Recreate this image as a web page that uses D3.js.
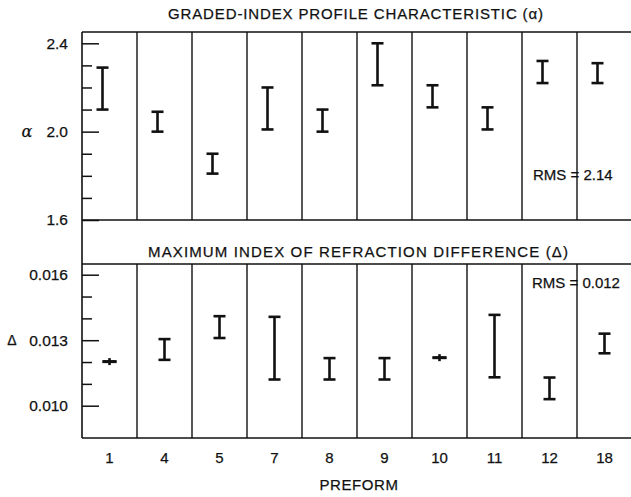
<!DOCTYPE html>
<html>
<head>
<meta charset="utf-8">
<script src="https://cdn.jsdelivr.net/npm/d3@7"></script>
<style>
  html, body { margin: 0; padding: 0; background: #fff; }
  svg { display: block; }
  text { font-family: "Liberation Sans", Arial, Helvetica, sans-serif; fill: #111; stroke: #111; stroke-width: 0.25px; }
</style>
</head>
<body>
<svg id="chart" width="631" height="497"></svg>
<script>
// Preform identifiers along the horizontal axis
const preforms = ["1", "4", "5", "7", "8", "9", "10", "11", "12", "18"];

// Graded-index profile characteristic (alpha): measured range per preform
const alphaLow  = [2.10, 2.00, 1.81, 2.01, 2.00, 2.21, 2.11, 2.01, 2.22, 2.22];
const alphaHigh = [2.29, 2.09, 1.90, 2.20, 2.10, 2.40, 2.21, 2.11, 2.32, 2.31];

// Maximum index of refraction difference (Delta): measured range per preform
const deltaLow  = [0.01201, 0.0121, 0.0131, 0.0112, 0.0112, 0.0112, 0.01219, 0.0113, 0.0103, 0.0124];
const deltaHigh = [0.01203, 0.01305, 0.0141, 0.01407, 0.01218, 0.01218, 0.01221, 0.01416, 0.01129, 0.0133];

// Axis tick values
const alphaMajor = [1.6, 2.0, 2.4];
const alphaMinor = [1.7, 1.8, 1.9, 2.1, 2.2, 2.3];
const deltaMajor = [0.010, 0.013, 0.016];
const deltaMinor = [0.011, 0.012, 0.014, 0.015];

// Text
const titleTop = "GRADED-INDEX PROFILE CHARACTERISTIC (α)";
const titleBottom = "MAXIMUM INDEX OF REFRACTION DIFFERENCE (Δ)";
const rmsTop = "RMS = 2.14";
const rmsBottom = "RMS = 0.012";
const xTitle = "PREFORM";

const svg = d3.select("#chart");
const left = 82, right = 632;
const topPanel = { y0: 32, y1: 220 };
const botPanel = { y0: 264, y1: 438 };

const x = d3.scaleBand().domain(preforms).range([left, right]).padding(0);
const yA = d3.scaleLinear().domain([1.6, 2.4]).range([220, 43.3]);
const yD = d3.scaleLinear().domain([0.010, 0.016]).range([405.7, 274.7]);

const ink = "#111";

// Frame: horizontal panel borders
[topPanel.y0, topPanel.y1, botPanel.y0, botPanel.y1].forEach(yy => {
  svg.append("line").attr("x1", left).attr("x2", 631).attr("y1", yy).attr("y2", yy)
    .attr("stroke", ink).attr("stroke-width", 1.6);
});
// Left axis line spanning both panels
svg.append("line").attr("x1", left).attr("x2", left)
  .attr("y1", topPanel.y0).attr("y2", botPanel.y1)
  .attr("stroke", ink).attr("stroke-width", 1.6);

// Column dividers within each panel
preforms.slice(1).forEach(p => {
  const xx = x(p);
  [topPanel, botPanel].forEach(pn => {
    svg.append("line").attr("x1", xx).attr("x2", xx)
      .attr("y1", pn.y0).attr("y2", pn.y1)
      .attr("stroke", ink).attr("stroke-width", 1.4);
  });
});

// Axes with inward ticks
function drawAxis(scale, major, minor, fmt) {
  const gMaj = svg.append("g").attr("transform", `translate(${left},0)`)
    .call(d3.axisLeft(scale).tickValues(major).tickFormat(fmt).tickSize(-17).tickPadding(14));
  const gMin = svg.append("g").attr("transform", `translate(${left},0)`)
    .call(d3.axisLeft(scale).tickValues(minor).tickFormat("").tickSize(-10));
  [gMaj, gMin].forEach(g => {
    g.select(".domain").remove();
    g.selectAll(".tick line").attr("stroke", ink).attr("stroke-width", 1.5);
  });
  gMaj.selectAll(".tick text").attr("font-size", 15.5).attr("fill", ink)
    .style("font-family", '"Liberation Sans", Arial, sans-serif');
}
drawAxis(yA, alphaMajor, alphaMinor, d3.format(".1f"));
drawAxis(yD, deltaMajor, deltaMinor, d3.format(".3f"));

// Axis symbols
svg.append("text").attr("x", 27).attr("y", yA(2.0) + 5).attr("text-anchor", "middle")
  .attr("font-size", 16).attr("font-style", "italic")
  .style("font-family", '"DejaVu Serif", "Liberation Serif", serif').text("α");
svg.append("text").attr("x", 12).attr("y", yD(0.013) + 5).attr("text-anchor", "middle")
  .attr("font-size", 14).text("Δ");

// Error bars (I-beams); the stem keeps a small minimum height so very
// narrow ranges still read as a mark
function drawBars(scale, lows, highs, offset) {
  const g = svg.append("g").attr("stroke", ink).attr("stroke-width", 2.6).attr("fill", "none");
  preforms.forEach((p, i) => {
    const cx = x(p) + x.bandwidth() / 2 + offset;
    const yl = scale(lows[i]), yh = scale(highs[i]);
    const mid = (yl + yh) / 2;
    const s0 = Math.min(yh, mid - 3.5), s1 = Math.max(yl, mid + 3.5);
    const narrow = (yl - yh) < 3;
    const half = narrow ? 7 : 6;
    g.append("line").attr("x1", cx).attr("x2", cx).attr("y1", s0).attr("y2", s1);
    g.append("line").attr("x1", cx - half).attr("x2", cx + half).attr("y1", yh).attr("y2", yh);
    g.append("line").attr("x1", cx - half).attr("x2", cx + half).attr("y1", yl).attr("y2", yl);
  });
}
drawBars(yA, alphaLow, alphaHigh, -7);
drawBars(yD, deltaLow, deltaHigh, 0);

// Panel titles
svg.append("text").attr("x", 168).attr("y", 18.5).attr("font-size", 15)
  .attr("textLength", 375).attr("lengthAdjust", "spacing").text(titleTop);
svg.append("text").attr("x", 148).attr("y", 257).attr("font-size", 15)
  .attr("textLength", 420).attr("lengthAdjust", "spacing").text(titleBottom);

// RMS annotations
svg.append("text").attr("x", 533).attr("y", yA(1.782)).attr("font-size", 15).text(rmsTop);
svg.append("text").attr("x", 532).attr("y", yD(0.01541)).attr("font-size", 15).text(rmsBottom);

// Preform tick labels
svg.append("g").selectAll("text").data(preforms).join("text")
  .attr("x", d => x(d) + x.bandwidth() / 2)
  .attr("y", 463).attr("text-anchor", "middle").attr("font-size", 15).text(d => d);

// Horizontal axis title
svg.append("text").attr("x", 359).attr("y", 490).attr("text-anchor", "middle")
  .attr("font-size", 15).attr("letter-spacing", 0.6).text(xTitle);
</script>
</body>
</html>
